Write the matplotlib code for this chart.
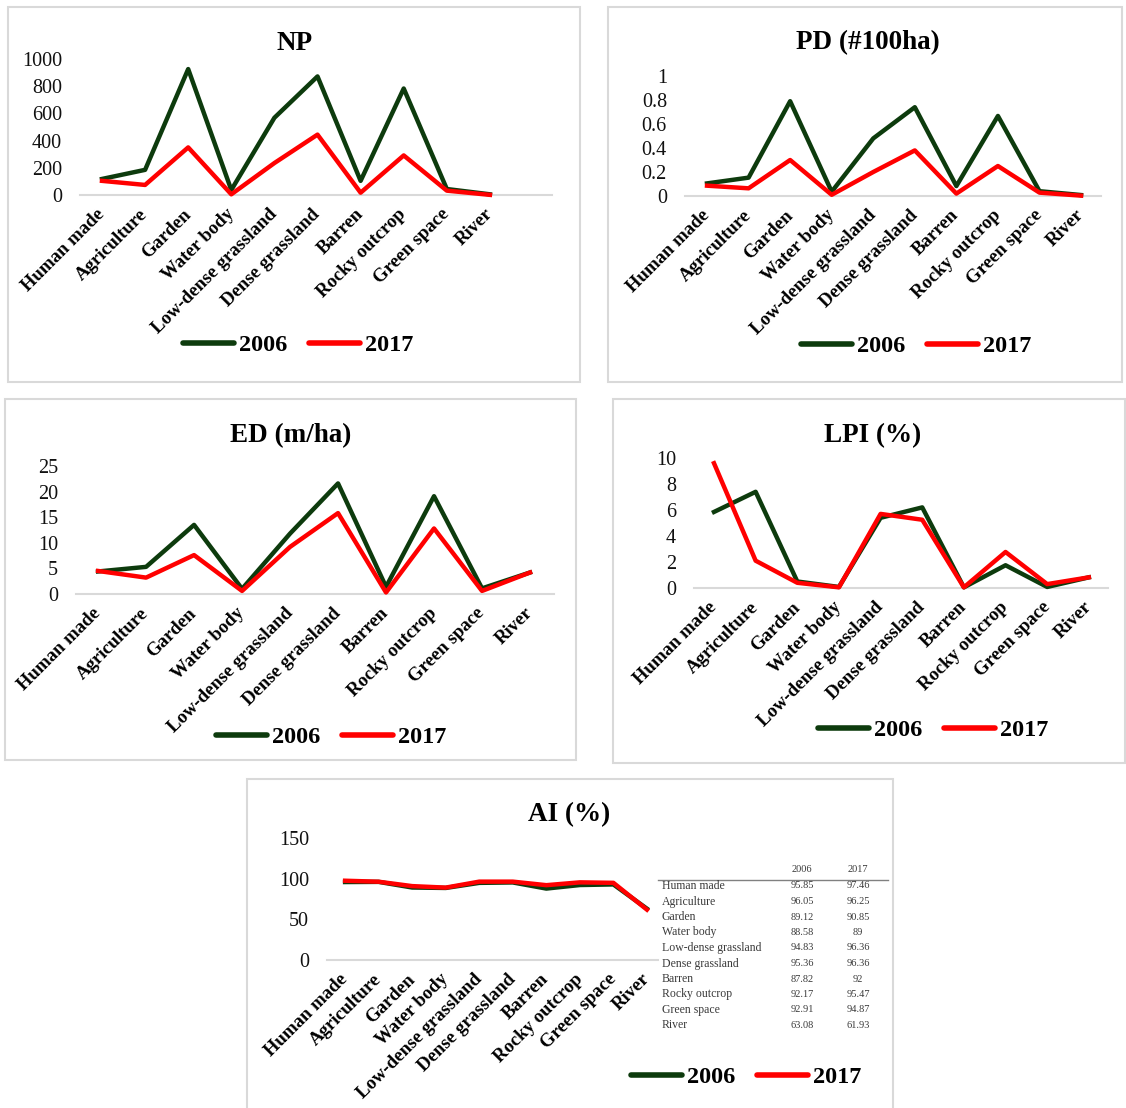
import matplotlib
matplotlib.use("Agg")
import matplotlib.pyplot as plt
from matplotlib.lines import Line2D
from matplotlib.patches import Rectangle

# ---------------- data ----------------
categories = ["Human made", "Agriculture", "Garden", "Water body", "Low-dense grassland",
              "Dense grassland", "Barren", "Rocky outcrop", "Green space", "River"]
years = ["2006", "2017"]

np_2006 = [118, 185, 926, 37, 568, 872, 104, 783, 44, 5]
np_2017 = [104, 74, 350, 5, 235, 444, 17, 291, 32, 1]

pd_2006 = [0.105, 0.153, 0.79, 0.036, 0.48, 0.74, 0.083, 0.667, 0.04, 0.008]
pd_2017 = [0.086, 0.064, 0.30, 0.01, 0.20, 0.38, 0.02, 0.25, 0.028, 0.003]

ed_2006 = [4.4, 5.3, 13.5, 1.0, 11.8, 21.6, 1.4, 19.1, 1.1, 4.2]
ed_2017 = [4.5, 3.2, 7.6, 0.6, 9.2, 15.8, 0.3, 12.8, 0.6, 4.2]

lpi_2006 = [5.85, 7.4, 0.5, 0.08, 5.4, 6.2, 0.05, 1.75, 0.08, 0.82]
lpi_2017 = [9.6, 2.1, 0.4, 0.05, 5.7, 5.25, 0.05, 2.77, 0.3, 0.82]

ai_2006 = [95.85, 96.05, 89.12, 88.58, 94.83, 95.36, 87.82, 92.17, 92.91, 63.08]
ai_2017 = [97.46, 96.25, 90.85, 89, 96.36, 96.36, 92, 95.47, 94.87, 61.93]

np_ticks = [0, 200, 400, 600, 800, 1000]
pd_ticks = [0, 0.2, 0.4, 0.6, 0.8, 1]
pd_ticklabels = ["0", "0.2", "0.4", "0.6", "0.8", "1"]
ed_ticks = [0, 5, 10, 15, 20, 25]
lpi_ticks = [0, 2, 4, 6, 8, 10]
ai_ticks = [0, 50, 100, 150]

# ---------------- style ----------------
W, H = 1126, 1108
GREEN = "#0d3b0d"
RED = "#ff0000"
GRID = "#d9d9d9"
SERIF = ["Liberation Serif", "DejaVu Serif"]
plt.rcParams["font.family"] = SERIF

fig = plt.figure(figsize=(W / 100, H / 100), dpi=100)
fig.patch.set_facecolor("white")


def fx(x):
    return x / W


def fy(y):
    return 1 - y / H


def panel_box(x0, y0, x1, y1):
    fig.add_artist(Rectangle((fx(x0), fy(y1)), fx(x1 - x0), (y1 - y0) / H,
                             transform=fig.transFigure, fill=False,
                             edgecolor=GRID, linewidth=1.5))


def make_panel(title, tcx, tcy, ax_x0, ax_x1, y0, ytop, xlim, yticks, yticklabels,
               s2006, s2017, leg_cx, leg_cy):
    ax = fig.add_axes([fx(ax_x0), fy(y0), fx(ax_x1 - ax_x0), (y0 - ytop) / H])
    x = list(range(len(categories)))
    ax.plot(x, s2006, color=GREEN, lw=3.2, clip_on=False, label=years[0])
    ax.plot(x, s2017, color=RED, lw=3.2, clip_on=False, label=years[1])
    ax.set_xlim(*xlim)
    ax.set_ylim(yticks[0], yticks[-1])
    ax.set_yticks(yticks)
    ax.set_yticklabels(yticklabels, fontsize=14.5, color="#111111")
    ax.set_xticks(x)
    ax.set_xticklabels(categories, rotation=45, ha="right", va="center",
                       rotation_mode="anchor", fontsize=13.5, fontweight="bold")
    ax.tick_params(axis="x", length=0, pad=12)
    ax.tick_params(axis="y", length=0, pad=13)
    for s in ["top", "right", "left"]:
        ax.spines[s].set_visible(False)
    ax.spines["bottom"].set_color(GRID)
    ax.spines["bottom"].set_linewidth(1.5)
    ax.spines["bottom"].set_zorder(0)
    ax.patch.set_alpha(0)
    fig.text(fx(tcx), fy(tcy), title, ha="center", va="center",
             fontsize=19.5, fontweight="bold")
    handles = [Line2D([], [], color=GREEN, lw=4, solid_capstyle="round"),
               Line2D([], [], color=RED, lw=4, solid_capstyle="round")]
    fig.legend(handles, years, loc="center", bbox_to_anchor=(fx(leg_cx), fy(leg_cy)),
               ncol=2, frameon=False, handlelength=2.1, handletextpad=0.2,
               columnspacing=0.9, prop={"family": SERIF, "weight": "bold", "size": 17.5})
    return ax


# NP
panel_box(8, 7, 580, 382)
make_panel("NP", 295, 43, 80, 552, 195, 59, (-0.51, 10.44), np_ticks,
           [str(t) for t in np_ticks], np_2006, np_2017, 298, 345)

# PD
panel_box(608, 7, 1122, 382)
make_panel("PD (#100ha)", 868, 43, 685, 1101, 196, 76, (-0.53, 9.48), pd_ticks,
           pd_ticklabels, pd_2006, pd_2017, 916, 346)

# ED
panel_box(5, 399, 576, 760)
make_panel("ED (m/ha)", 291, 436, 76, 554, 594, 466, (-0.46, 9.5), ed_ticks,
           [str(t) for t in ed_ticks], ed_2006, ed_2017, 331, 737)

# LPI
panel_box(613, 399, 1125, 763)
make_panel("LPI (%)", 873, 436, 694, 1108, 588, 458, (-0.48, 9.46), lpi_ticks,
           [str(t) for t in lpi_ticks], lpi_2006, lpi_2017, 933, 730)

# AI
panel_box(247, 779, 893, 1110)
make_panel("AI (%)", 569, 815, 327, 658, 960, 838, (-0.54, 9.33), ai_ticks,
           [str(t) for t in ai_ticks], ai_2006, ai_2017, 746, 1077)

# AI data table (text)
TC = "#3a3a3a"
fig.text(fx(802), fy(870), years[0], ha="center", va="center", fontsize=7.5, color=TC)
fig.text(fx(858), fy(870), years[1], ha="center", va="center", fontsize=7.5, color=TC)
fig.add_artist(Line2D([fx(658), fx(888)], [fy(880), fy(880)], color="#808080",
                      lw=1.0, transform=fig.transFigure))
for i, cat in enumerate(categories):
    yy = 886 + i * 15.5
    fig.text(fx(662), fy(yy), cat, ha="left", va="center", fontsize=8.5, color=TC)
    fig.text(fx(802), fy(yy), f"{ai_2006[i]:g}", ha="center", va="center",
             fontsize=7.5, color=TC)
    fig.text(fx(858), fy(yy), f"{ai_2017[i]:g}", ha="center", va="center",
             fontsize=7.5, color=TC)

fig.savefig("out.png", dpi=100, facecolor="white")
